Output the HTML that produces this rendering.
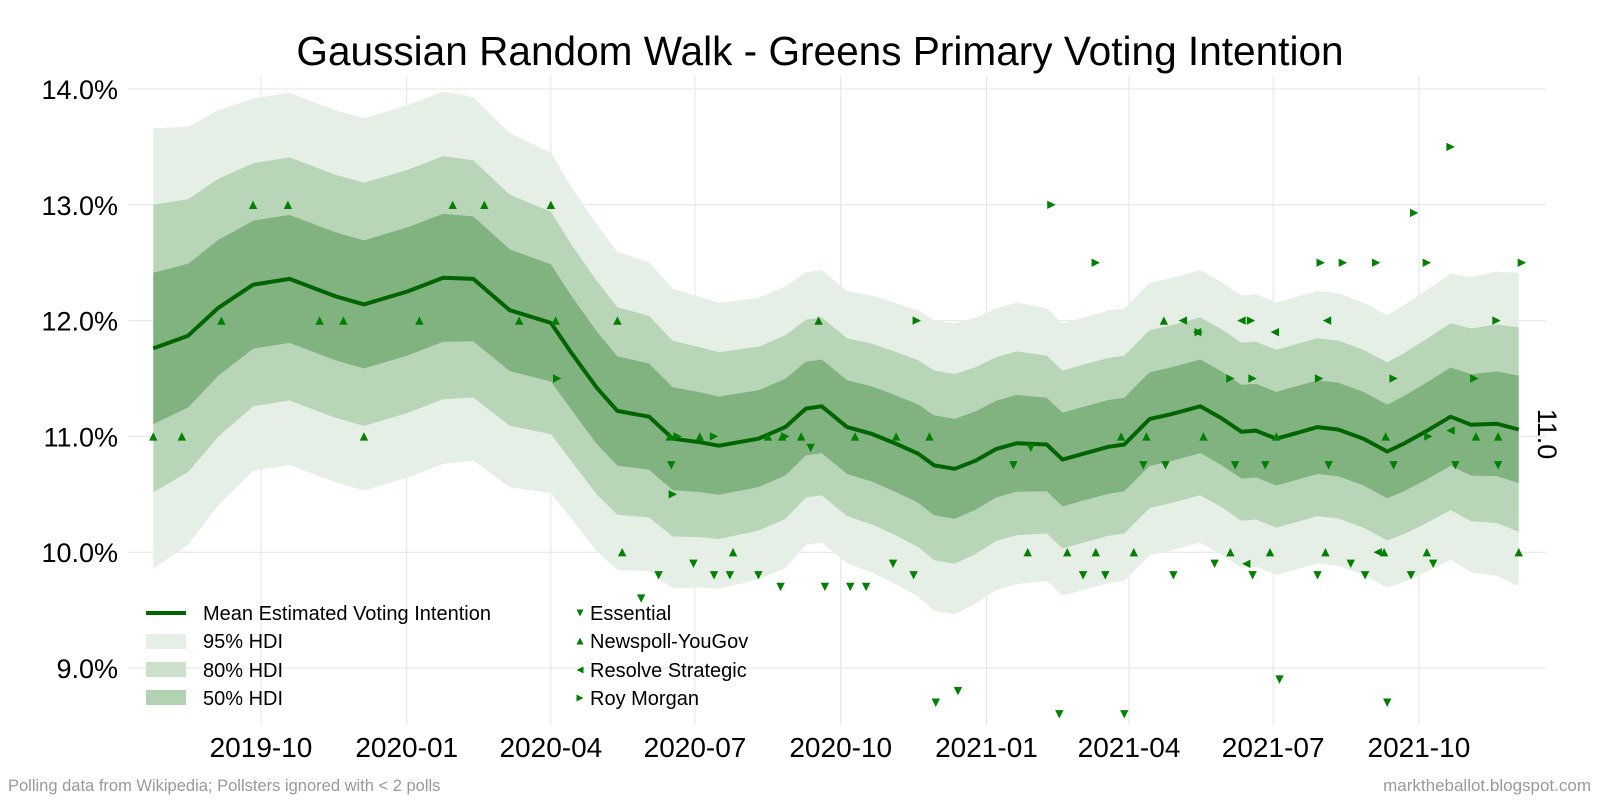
<!DOCTYPE html>
<html><head><meta charset="utf-8">
<style>
html,body{margin:0;padding:0;background:#fff;}
svg{display:block;font-family:"Liberation Sans",sans-serif;}
</style></head>
<body>
<svg id="chart" width="1600" height="800" viewBox="0 0 1600 800" xmlns="http://www.w3.org/2000/svg">
<text x="820" y="65" font-size="40.6" text-anchor="middle" fill="#000">Gaussian Random Walk - Greens Primary Voting Intention</text>
<g id="grid"></g>
<g id="bands"></g>
<g id="meanline"></g>
<g id="polls"></g>
<g id="yaxis"></g>
<g id="xaxis"></g>
<text transform="translate(1538,434) rotate(90)" font-size="27" text-anchor="middle" fill="#000">11.0</text>
<g id="legend">
  <line x1="146" y1="613" x2="186" y2="613" stroke="#006400" stroke-width="4"/>
  <text x="203" y="620" font-size="20">Mean Estimated Voting Intention</text>
  <rect x="146" y="634" width="40" height="15" fill="#e5efe5"/>
  <text x="203" y="648" font-size="20">95% HDI</text>
  <rect x="146" y="662" width="40" height="15" fill="#cce0cc"/>
  <text x="203" y="677" font-size="20">80% HDI</text>
  <rect x="146" y="690" width="40" height="15" fill="#b3d2b3"/>
  <text x="203" y="705" font-size="20">50% HDI</text>
  <g id="legmarks"></g>
  <text x="590" y="620" font-size="20">Essential</text>
  <text x="590" y="648" font-size="20">Newspoll-YouGov</text>
  <text x="590" y="677" font-size="20">Resolve Strategic</text>
  <text x="590" y="705" font-size="20">Roy Morgan</text>
</g>
<text x="8" y="791" font-size="16.5" fill="#999">Polling data from Wikipedia; Pollsters ignored with &lt; 2 polls</text>
<text x="1591" y="791" font-size="17" fill="#999" text-anchor="end">marktheballot.blogspot.com</text>
</svg>
<script>
// days since 2019-10-01
const meanDay = [-68,-46,-27,-5,18,47,65,92,115,134,157,183,196,212,225,245,260,277,289,314,331,344,354,370,386,402,415,425,438,451,464,477,496,506,519,535,545,561,574,593,606,619,628,641,654,667,680,696,711,722,735,751,764,780,794];
const meanVal = [11.76,11.87,12.11,12.31,12.36,12.21,12.14,12.25,12.37,12.36,12.09,11.98,11.72,11.42,11.22,11.17,10.98,10.95,10.92,10.98,11.08,11.24,11.26,11.08,11.02,10.93,10.85,10.75,10.72,10.79,10.89,10.94,10.93,10.80,10.85,10.91,10.93,11.15,11.19,11.26,11.16,11.04,11.05,10.98,11.03,11.08,11.06,10.98,10.87,10.94,11.04,11.17,11.10,11.11,11.06];
const meanSd = [0.97,0.92,0.87,0.82,0.82,0.82,0.82,0.82,0.82,0.8,0.78,0.75,0.73,0.72,0.7,0.68,0.66,0.64,0.63,0.62,0.62,0.6,0.6,0.6,0.61,0.62,0.63,0.64,0.64,0.63,0.62,0.62,0.6,0.6,0.6,0.6,0.6,0.6,0.6,0.6,0.6,0.6,0.6,0.6,0.6,0.6,0.6,0.6,0.6,0.61,0.62,0.63,0.65,0.67,0.69];
const essentialDay = [240,251,259,273,286,296,314,328,347,356,372,382,399,412,426,440,475,486,504,519,533,545,557,571,576,602,615,626,634,643,667,674,688,697,715,711,726,740,754,781];
const essentialVal = [9.6,9.8,10.75,9.9,9.8,9.8,9.8,9.7,10.9,9.7,9.7,9.7,9.9,9.8,8.7,8.8,10.75,10.9,8.6,9.8,9.8,8.6,10.75,10.75,9.8,9.9,10.75,9.8,10.75,8.9,9.8,10.75,9.9,9.8,10.75,8.7,9.8,9.9,10.75,10.75];
const newspollDay = [-68,-50,-25,-5,17,37,52,65,100,121,141,163,183,186,225,228,258,277,298,320,329,341,352,375,401,422,484,509,527,543,551,570,559,595,612,637,641,672,710,709,736,767,781,794];
const newspollVal = [11,11,12,13,13,12,12,11,12,13,13,12,13,12,12,10,11,11,10,11,11,11,12,11,11,11,10,10,10,11,10,12,11,11,10,10,11,10,11,10,10,11,11,10];
const resolveDay = [582,591,622,619,640,673,705,751];
const resolveVal = [12.0,11.9,9.9,12.0,11.9,12.0,10.0,11.05];
const roymorganDay = [187,260,263,286,331,414,499,527,592,612,626,625,668,669,683,715,704,728,737,736,751,766,780,796];
const roymorganVal = [11.5,10.5,11.0,11.0,11.0,12.0,13.0,12.5,11.9,11.5,11.5,12.0,11.5,12.5,12.5,11.5,12.5,12.93,11.0,12.5,13.5,11.5,12.0,12.5];
const yTicks = [9,10,11,12,13,14];
const yTickLabels = ["9.0%","10.0%","11.0%","12.0%","13.0%","14.0%"];
const xTickDays = [0,92,183,274,366,458,548,639,731];
const xTickLabels = ["2019-10","2020-01","2020-04","2020-07","2020-10","2021-01","2021-04","2021-07","2021-10"];

const NS="http://www.w3.org/2000/svg";
const X = d => 261 + d*1.584;
const Y = v => 668 - (v-9)*115.8;
function mk(tag, attrs, parent){const e=document.createElementNS(NS,tag);for(const k in attrs)e.setAttribute(k,attrs[k]);parent.appendChild(e);return e;}
const grid=document.getElementById('grid');
yTicks.forEach((t,i)=>{
  const l=mk('line',{x1:128,x2:1546,y1:Y(t),y2:Y(t),stroke:'#e4e4e4','stroke-width':1},grid);
  
  
  const tx=mk('text',{x:118,y:Y(t)+10,'font-size':27,'text-anchor':'end'},document.getElementById('yaxis'));
  tx.textContent=yTickLabels[i];
  
  
});
xTickDays.forEach((d,i)=>{
  const l=mk('line',{x1:X(d),x2:X(d),y1:76,y2:725,stroke:'#e4e4e4','stroke-width':1},grid);
  
  
  const tx=mk('text',{x:X(d),y:757,'font-size':28,'text-anchor':'middle'},document.getElementById('xaxis'));
  tx.textContent=xTickLabels[i];
  
  
});
const bands=[[1.96,'#e5efe5','band-95'],[1.28,'#b8d5b8','band-80'],[0.674,'#80b37f','band-50']];
bands.forEach(b=>{
  let up=meanDay.map((d,i)=>X(d).toFixed(1)+','+Y(meanVal[i]+b[0]*meanSd[i]).toFixed(1));
  let lo=meanDay.map((d,i)=>X(d).toFixed(1)+','+Y(meanVal[i]-b[0]*meanSd[i]).toFixed(1)).reverse();
  const p=mk('polygon',{points:up.concat(lo).join(' '),fill:b[1]},document.getElementById('bands'));
  
  
});
const ml=mk('polyline',{points:meanDay.map((d,i)=>X(d).toFixed(1)+','+Y(meanVal[i]).toFixed(1)).join(' '),fill:'none',stroke:'#006400','stroke-width':4,'stroke-linejoin':'round'},document.getElementById('meanline'));


function tri(x,y,dir,s){
  if(dir==='down')return `${x-s},${y-s} ${x+s},${y-s} ${x},${y+s}`;
  if(dir==='up')return `${x-s},${y+s} ${x+s},${y+s} ${x},${y-s}`;
  if(dir==='left')return `${x+s},${y-s} ${x+s},${y+s} ${x-s},${y}`;
  return `${x-s},${y-s} ${x-s},${y+s} ${x+s},${y}`;}
const pg=document.getElementById('polls');
function drawPolls(days,vals,dir,name){days.forEach((d,i)=>{
  const p=mk('polygon',{points:tri(X(d),Y(vals[i]),dir,4.2),fill:'#007f00'},pg);
  
  });}
drawPolls(essentialDay,essentialVal,'down','essential-poll');
drawPolls(newspollDay,newspollVal,'up','newspoll-poll');
drawPolls(resolveDay,resolveVal,'left','resolve-poll');
drawPolls(roymorganDay,roymorganVal,'right','roymorgan-poll');
const lm=document.getElementById('legmarks');
[['down',613,'legend-essential-marker'],['up',641,'legend-newspoll-marker'],['left',670,'legend-resolve-marker'],['right',698,'legend-roymorgan-marker']].forEach(m=>{
  const p=mk('polygon',{points:tri(580,m[1],m[0],3.5),fill:'#007f00'},lm);
  
  
});
</script>
</body></html>
